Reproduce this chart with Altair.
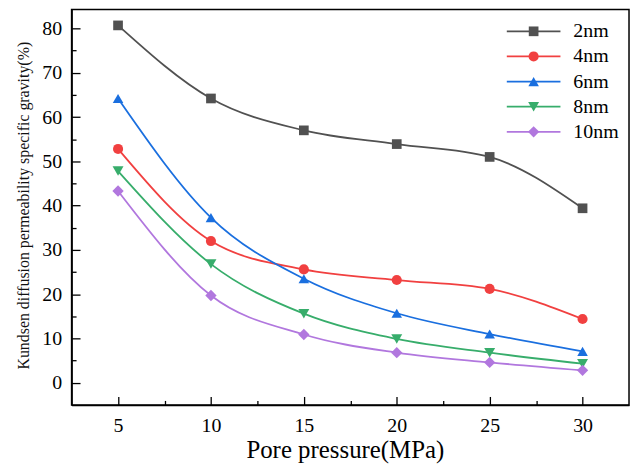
import altair as alt
import pandas as pd

# ---- data ----
pressure = [5, 10, 15, 20, 25, 30]
series = ["2nm", "4nm", "6nm", "8nm", "10nm"]
v_2nm = [80.7, 64.2, 57.0, 53.9, 51.0, 39.4]
v_4nm = [52.8, 32.0, 25.6, 23.2, 21.2, 14.4]
v_6nm = [64.2, 37.3, 23.5, 15.7, 11.0, 7.1]
v_8nm = [47.8, 26.8, 15.6, 9.9, 6.8, 4.3]
v_10nm = [43.3, 19.7, 10.9, 6.8, 4.6, 2.8]

x_major = [5, 10, 15, 20, 25, 30]
x_all = [5, 7.5, 10, 12.5, 15, 17.5, 20, 22.5, 25, 27.5, 30]
y_major = [0, 10, 20, 30, 40, 50, 60, 70, 80]
y_all = [0, 5, 10, 15, 20, 25, 30, 35, 40, 45, 50, 55, 60, 65, 70, 75, 80]

colors = ["#515151", "#F14040", "#1A6FDF", "#37AD6B", "#B177DE"]
shapes = ["square", "circle", "triangle-up", "triangle-down", "diamond"]
sizes = [95, 130, 165, 140, 150]

values = [v_2nm, v_4nm, v_6nm, v_8nm, v_10nm]
rows = []
for s, vals in zip(series, values):
    for p, v in zip(pressure, vals):
        rows.append({"p": p, "v": v, "series": s, "line_series": s})
df = pd.DataFrame(rows)

FONT = "Liberation Serif, Times New Roman, serif"
W, H = 561, 398
X_DOM = [2.5, 32.5]
Y_DOM = [-5, 84.3]

LEG_X, LEG_Y = 455, 12
common_legend = dict(
    title=None,
    orient="none",
    legendX=LEG_X,
    legendY=LEG_Y,
    padding=0,
    symbolSize=100,
    labelOffset=30,
    labelFont=FONT,
    labelFontSize=20,
    labelColor="#000000",
    rowPadding=5.3,
)
legend_lines = alt.Legend(
    symbolType="M-5.4,0H5.4",
    symbolStrokeWidth=1.8,
    zindex=1,
    **common_legend,
)
legend_points = alt.Legend(
    labelOpacity=0,
    symbolStrokeWidth=0,
    symbolOpacity=1,
    zindex=2,
    **common_legend,
)

# visible axes: labels, titles, domain lines, no ticks
x_axis_main = alt.Axis(
    orient="bottom",
    values=x_major,
    ticks=False,
    tickSize=0,
    labelPadding=11,
    labelFont=FONT,
    labelFontSize=20,
    labelColor="#000000",
    domainColor="#000000",
    domainWidth=1.5,
    grid=False,
    title="Pore pressure(MPa)",
    titleFont=FONT,
    titleFontSize=25,
    titleFontWeight="normal",
    titleColor="#000000",
    titleBaseline="alphabetic",
    titleX=275,
    titleY=53,
)
y_axis_main = alt.Axis(
    orient="left",
    values=y_major,
    ticks=False,
    tickSize=0,
    labelPadding=10,
    labelFont=FONT,
    labelFontSize=20,
    labelColor="#000000",
    domainColor="#000000",
    domainWidth=1.5,
    grid=False,
    title="Kundsen diffusion permeability specific gravity(%)",
    titleFont=FONT,
    titleFontSize=16,
    titleFontWeight="normal",
    titleColor="#111111",
    titleAngle=-90,
    titleBaseline="middle",
    titleX=-48,
    titleY=H / 2 - 2,
)
# tick-only axes placed on the same edges but facing inwards
x_axis_ticks = alt.Axis(
    orient="top",
    offset=-H,
    values=x_all,
    labels=False,
    domain=False,
    grid=False,
    title=None,
    tickColor="#000000",
    tickWidth=1.3,
    tickSize={"condition": {"test": "datum.value % 5 == 0", "value": 8.5}, "value": 4.5},
)
y_axis_ticks = alt.Axis(
    orient="right",
    offset=-W,
    values=y_all,
    labels=False,
    domain=False,
    grid=False,
    title=None,
    tickColor="#000000",
    tickWidth=1.3,
    tickSize={"condition": {"test": "datum.value % 10 == 0", "value": 8.5}, "value": 4.5},
)

x_scale = alt.Scale(domain=X_DOM, nice=False, zero=False)
y_scale = alt.Scale(domain=Y_DOM, nice=False, zero=False)

lines = alt.Chart(df).mark_line(interpolate="monotone", strokeWidth=1.8).encode(
    x=alt.X("p:Q", scale=x_scale, axis=x_axis_main),
    y=alt.Y("v:Q", scale=y_scale, axis=y_axis_main),
    stroke=alt.Stroke("line_series:N", sort=series, scale=alt.Scale(range=colors), legend=legend_lines),
)

points = alt.Chart(df).mark_point(filled=True, opacity=1).encode(
    x=alt.X("p:Q", scale=x_scale, axis=x_axis_ticks),
    y=alt.Y("v:Q", scale=y_scale, axis=y_axis_ticks),
    color=alt.Color("series:N", scale=alt.Scale(domain=series, range=colors), legend=legend_points),
    shape=alt.Shape("series:N", scale=alt.Scale(domain=series, range=shapes), legend=legend_points),
    size=alt.Size("series:N", scale=alt.Scale(domain=series, range=sizes), legend=None),
)

chart = (
    alt.layer(lines, points)
    .resolve_axis(x="independent", y="independent")
    .properties(
        width=W,
        height=H,
        autosize=alt.AutoSizeParams(type="none"),
        padding={"left": 64, "top": 0, "right": 2, "bottom": 58},
        background="#ffffff",
    )
    .configure(font=FONT)
    .configure_axis(labelFont=FONT, titleFont=FONT)
    .configure_legend(labelFont=FONT)
    .configure_view(stroke="#000000", strokeWidth=1.5)
)

chart.save("out.html", embed_options={"renderer": "svg", "actions": False})
